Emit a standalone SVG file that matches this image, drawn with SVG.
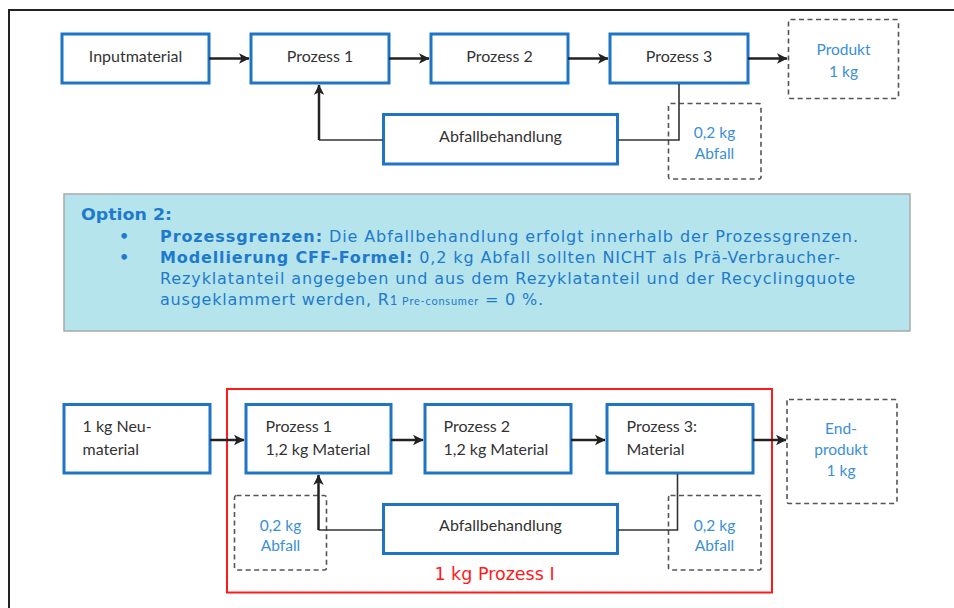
<svg xmlns="http://www.w3.org/2000/svg" width="954" height="608" viewBox="0 0 954 608">
<style>
.box{fill:#fff;stroke:#1f74c6;stroke-width:3}
.dash{fill:#fff;stroke:#555;stroke-width:1.6;stroke-dasharray:5 3.5}
.t{font-family:Lato,"Liberation Sans",sans-serif;font-size:16px;fill:#333}
.tb{font-family:Lato,"Liberation Sans",sans-serif;font-size:15.5px;fill:#3a8fd6}
.arr{fill:none;stroke:#222;stroke-width:2.5}
.thin{fill:none;stroke:#333;stroke-width:1.6}
.note{font-family:"DejaVu Sans",Verdana,sans-serif;font-size:16px;fill:#1f7acb}
</style>
<defs>
<marker id="ah" viewBox="0 0 10 10" refX="9.5" refY="5" markerWidth="4.2" markerHeight="4.2" orient="auto" markerUnits="strokeWidth">
<path d="M0,0 L10,5 L0,10 L2.5,5 Z" fill="#222"/>
</marker>
</defs>
<rect x="0" y="0" width="954" height="608" fill="#fff"/>
<path d="M9,608 V10 H954" fill="none" stroke="#222" stroke-width="2"/>

<!-- top row -->
<g id="inputmaterial"><rect class="box" x="62" y="34" width="147" height="49"/><text class="t" x="135.5" y="61.5" text-anchor="middle">Inputmaterial</text></g>
<g id="prozess1"><rect class="box" x="251" y="34" width="138" height="49"/><text class="t" x="320" y="61.5" text-anchor="middle">Prozess 1</text></g>
<g id="prozess2"><rect class="box" x="431" y="34" width="137" height="49"/><text class="t" x="499.5" y="61.5" text-anchor="middle">Prozess 2</text></g>
<g id="prozess3"><rect class="box" x="610" y="34" width="138" height="49"/><text class="t" x="679" y="61.5" text-anchor="middle">Prozess 3</text></g>
<g id="produkt"><rect class="dash" x="788.5" y="19.5" width="110" height="79" rx="2"/><text class="tb" x="843.5" y="54.5" text-anchor="middle">Produkt</text><text class="tb" x="843.5" y="76.5" text-anchor="middle">1 kg</text></g>
<g id="abfall-top"><rect class="dash" x="668.5" y="103.5" width="92.5" height="75.5" rx="2"/><text class="tb" x="714.5" y="137.5" text-anchor="middle">0,2 kg</text><text class="tb" x="714.5" y="159" text-anchor="middle">Abfall</text></g>
<g id="abfallbehandlung-top"><rect class="box" x="383.5" y="114.5" width="234" height="49.5"/><text class="t" x="500.5" y="141.5" text-anchor="middle">Abfallbehandlung</text></g>

<!-- note box -->
<g id="note">
<rect x="64" y="194" width="846" height="137" fill="#b5e4ed" stroke="#a9a9a9" stroke-width="1.5"/>
<text class="note" x="81" y="219.5" font-weight="bold" textLength="91" lengthAdjust="spacingAndGlyphs">Option 2:</text>
<text class="note" x="119" y="241.5" font-weight="bold">•</text>
<text class="note" x="160" y="241.5" textLength="698" lengthAdjust="spacing"><tspan font-weight="bold">Prozessgrenzen:</tspan> Die Abfallbehandlung erfolgt innerhalb der Prozessgrenzen.</text>
<text class="note" x="119" y="263" font-weight="bold">•</text>
<text class="note" x="160" y="263" textLength="680" lengthAdjust="spacing"><tspan font-weight="bold">Modellierung CFF-Formel:</tspan> 0,2 kg Abfall sollten NICHT als Prä-Verbraucher-</text>
<text class="note" x="160" y="284" textLength="695" lengthAdjust="spacing">Rezyklatanteil angegeben und aus dem Rezyklatanteil und der Recyclingquote</text>
<text class="note" x="160" y="305" textLength="383" lengthAdjust="spacing">ausgeklammert werden, R<tspan font-family="Lato,'Liberation Sans',sans-serif" font-size="13">1 </tspan><tspan font-family="Lato,'Liberation Sans',sans-serif" font-size="11">Pre-consumer</tspan> = 0 %.</text>
</g>

<!-- bottom -->
<g id="prozess-i"><rect x="227" y="389" width="545" height="203.5" fill="none" stroke="#ff1a1a" stroke-width="2"/><text x="494.5" y="580" text-anchor="middle" font-family="'DejaVu Sans',Verdana,sans-serif" font-size="17.5" fill="#ff1a1a">1 kg Prozess I</text></g>
<g id="neumaterial"><rect class="box" x="64" y="404.5" width="146" height="68.5"/><text class="t" x="82.5" y="432">1 kg Neu-</text><text class="t" x="82.5" y="454.5">material</text></g>
<g id="b-prozess1"><rect class="box" x="246" y="404.5" width="145" height="68.5"/><text class="t" x="265.5" y="432">Prozess 1</text><text class="t" x="265.5" y="454.5">1,2 kg Material</text></g>
<g id="b-prozess2"><rect class="box" x="425" y="404.5" width="146" height="68.5"/><text class="t" x="443.5" y="432">Prozess 2</text><text class="t" x="443.5" y="454.5">1,2 kg Material</text></g>
<g id="b-prozess3"><rect class="box" x="607" y="404.5" width="146" height="68.5"/><text class="t" x="626.5" y="432">Prozess 3:</text><text class="t" x="626.5" y="454.5">Material</text></g>
<g id="endprodukt"><rect class="dash" x="787" y="399.5" width="110" height="104" rx="2"/><text class="tb" x="841" y="434" text-anchor="middle">End-</text><text class="tb" x="841" y="455" text-anchor="middle">produkt</text><text class="tb" x="841" y="476" text-anchor="middle">1 kg</text></g>
<g id="abfall-left"><rect class="dash" x="234.5" y="495.5" width="92" height="74.5" rx="2"/><text class="tb" x="280.5" y="531" text-anchor="middle">0,2 kg</text><text class="tb" x="280.5" y="551" text-anchor="middle">Abfall</text></g>
<g id="abfall-right"><rect class="dash" x="668.5" y="495.5" width="92.5" height="74.5" rx="2"/><text class="tb" x="714.5" y="531" text-anchor="middle">0,2 kg</text><text class="tb" x="714.5" y="551" text-anchor="middle">Abfall</text></g>
<g id="abfallbehandlung-bottom"><rect class="box" x="383.5" y="504.5" width="234" height="49"/><text class="t" x="500.5" y="531" text-anchor="middle">Abfallbehandlung</text></g>

<g id="connectors">
<path class="arr" d="M209,58.5 H249" marker-end="url(#ah)"/>
<path class="arr" d="M389,58.5 H429" marker-end="url(#ah)"/>
<path class="arr" d="M568,58.5 H608" marker-end="url(#ah)"/>
<path class="arr" d="M748,58.5 H787" marker-end="url(#ah)"/>
<path class="thin" d="M383,140 H319"/>
<path class="arr" d="M319,140 V85" marker-end="url(#ah)"/>
<path class="thin" d="M679,84 V140 H618"/>
<path class="arr" d="M210,440 H244" marker-end="url(#ah)"/>
<path class="arr" d="M391,440 H423" marker-end="url(#ah)"/>
<path class="arr" d="M571,440 H605" marker-end="url(#ah)"/>
<path class="arr" d="M753,440 H786" marker-end="url(#ah)"/>
<path class="thin" d="M383,530 H318.5"/>
<path class="arr" d="M318.5,530 V475" marker-end="url(#ah)"/>
<path class="thin" d="M677.5,474 V530 H618"/>
</g>
</svg>
